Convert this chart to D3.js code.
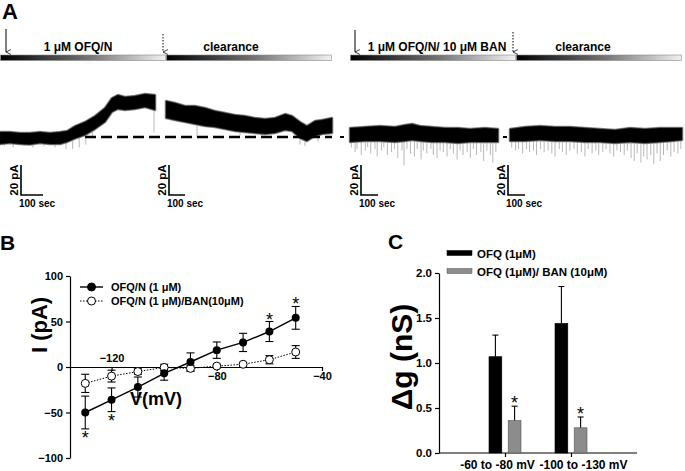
<!DOCTYPE html>
<html>
<head>
<meta charset="utf-8">
<script src="https://cdn.jsdelivr.net/npm/d3@7"></script>
<style>
  body { margin: 0; background: #fff; }
  svg { display: block; font-family: "Liberation Sans", Arial, sans-serif; font-weight: bold; }
  .narrow { font-family: "Liberation Sans Narrow", "Arial Narrow", "Liberation Sans", sans-serif; }
</style>
</head>
<body>
<svg id="fig" width="685" height="471"></svg>
<script>
// ---------- Panel A: current traces (time in s, current in pA above baseline) ----------
// envelope of each trace: [time, low, high]
const trace1Band = [
  [0, -4.7, 3.3], [45, -4, 3.3], [91, -4.7, 2.7], [136, -5, 2.7], [182, -4, 3.3],
  [227, -4.7, 2.7], [273, -4.7, 3.3], [305, -3.3, 4], [341, -1, 7.3], [386, 1.3, 10],
  [432, 5.3, 14], [477, 10, 19.3], [509, 16.7, 26], [536, 18.7, 28], [568, 18, 26.7],
  [614, 18.7, 27.3], [659, 20, 28.7], [705, 18, 28]
];
const trace2Band = [
  [0, 12.7, 24], [56, 11.3, 22.7], [119, 10, 20.7], [181, 8.7, 20.7], [244, 7.3, 19.3],
  [306, 6.7, 17.3], [369, 5.3, 16], [431, 4, 14.7], [494, 3.3, 14], [556, 2.7, 12.7],
  [619, 2, 12], [681, 2.7, 12.7], [744, 4.7, 15.3], [788, 4, 14], [838, -0.7, 10],
  [881, -2.7, 7.3], [931, 0.7, 10.7], [975, 2, 11.3], [1038, 2.7, 12.7]
];
const trace3Band = [
  [0, -3.3, 6], [88, -2.7, 6.7], [176, -2.7, 7.3], [265, -3.3, 6.7], [324, -2.7, 8],
  [365, -2, 8.7], [412, -2.7, 7.3], [482, -3.3, 6.7], [559, -3.3, 6], [635, -4, 6],
  [706, -3.3, 5.3], [794, -3.3, 6], [871, -3.3, 5.3]
];
const trace4Band = [
  [0, -2.7, 5.3], [88, -2.7, 6.7], [176, -2, 7.3], [265, -2.7, 6.7], [353, -2.7, 6.7],
  [441, -3.3, 6], [529, -3.3, 5.3], [618, -4, 4.7], [706, -3.3, 6], [794, -4, 5.3],
  [882, -3.3, 6], [953, -2.7, 6], [1012, -2, 6]
];
// noise spikes: [time, tip current]
const trace1Spikes = [
  [20, -6], [60, -7], [110, -6], [150, -7], [200, -6], [250, -7], [300, -8], [330, -8],
  [360, -7], [390, -5], [420, -1], [700, 3]
];
const trace2Spikes = [[194, 0], [463, 1], [600, 0], [838, -5], [869, -6], [950, -3]];
const trace3Spikes = [
  [8, -7], [30, -10], [41, -8], [66, -12], [90, -9], [104, -7], [122, -11], [147, -8],
  [160, -13], [185, -9], [199, -7], [220, -12], [244, -10], [262, -8], [281, -14], [306, -9],
  [318, -19], [335, -8], [356, -11], [379, -13], [395, -8], [418, -15], [431, -9], [452, -11],
  [476, -8], [490, -12], [512, -14], [530, -9], [549, -10], [571, -13], [590, -8], [608, -11],
  [630, -15], [648, -9], [665, -12], [689, -10], [708, -14], [726, -8], [744, -12], [770, -10],
  [786, -16], [805, -9], [826, -12], [840, -17], [858, -10]
];
const trace4Spikes = [
  [10, -7], [33, -9], [50, -8], [74, -11], [97, -8], [115, -10], [138, -9], [156, -12],
  [180, -8], [201, -10], [224, -9], [246, -11], [265, -13], [290, -8], [308, -10], [331, -12],
  [352, -9], [377, -8], [396, -11], [420, -10], [441, -13], [460, -8], [483, -11], [505, -9],
  [522, -12], [546, -10], [565, -8], [588, -11], [610, -13], [629, -9], [650, -10], [672, -12],
  [690, -9], [712, -14], [731, -16], [748, -11], [770, -17], [787, -13], [806, -15], [828, -12],
  [846, -18], [865, -11], [884, -16], [903, -12], [925, -9], [946, -13], [965, -10], [988, -11],
  [1005, -8]
];
const applicationLabels = ["1 \u03bcM OFQ/N", "clearance", "1 \u03bcM OFQ/N/ 10 \u03bcM BAN", "clearance"];
const scaleBarCurrent = 20;   // pA
const scaleBarTime = 100;     // s

// ---------- Panel B: I-V relation ----------
const voltages = [-130, -120, -110, -100, -90, -80, -70, -60, -50];
const ofqCurrent = [-50, -36, -22, -7, 5.5, 18.5, 27, 39, 54];
const ofqSem = [18, 13, 11, 7.5, 10, 9, 10, 11, 12.5];
const banCurrent = [-18, -10, -5, -0.5, -1.5, 1, 3, 8, 16.5];
const banSem = [10, 6.5, 3, 3.5, 3, 2, 2, 4.5, 7];
const ofqStars = [[0, "below"], [1, "below"], [7, "above"], [8, "above"]];
const ivSeriesNames = ["OFQ/N (1 \u03bcM)", "OFQ/N (1 \u03bcM)/BAN(10\u03bcM)"];
const ivYTicks = [-100, -50, 0, 50, 100];
const ivXTicks = [-120, -80, -40];

// ---------- Panel C: conductance change ----------
const voltageRanges = ["-60 to -80 mV", "-100 to -130 mV"];
const condSeries = ["OFQ (1\u03bcM)", "OFQ (1\u03bcM)/ BAN (10\u03bcM)"];
const ofqCond = [1.07, 1.44];
const ofqCondSem = [0.24, 0.41];
const banCond = [0.36, 0.28];
const banCondSem = [0.16, 0.12];
const condStars = [true, true]; // on BAN bars
const condYTicks = [0, 0.5, 1.0, 1.5, 2.0];

const svg = d3.select("#fig");

// ================= Panel A =================
const panelA = svg.append("g");
panelA.append("text").attr("x", 2).attr("y", 19).attr("font-size", 22).text("A");

const defs = svg.append("defs");
const grad = defs.append("linearGradient").attr("id", "fade").attr("x1", 0).attr("x2", 1);
grad.append("stop").attr("offset", "0%").attr("stop-color", "#000");
grad.append("stop").attr("offset", "55%").attr("stop-color", "#777");
grad.append("stop").attr("offset", "100%").attr("stop-color", "#f2f2f2");
defs.append("marker").attr("id", "head").attr("viewBox", "0 0 8 10")
  .attr("refX", 4).attr("refY", 10).attr("markerWidth", 6).attr("markerHeight", 7)
  .attr("orient", "auto-start-reverse").attr("markerUnits", "userSpaceOnUse")
  .append("path").attr("d", "M0.5,3 L4,10 L7.5,3").attr("fill", "none")
  .attr("stroke", "#000").attr("stroke-width", 1.1);

const barStarts = [0, 166, 350, 516];
const labelCenters = [78, 65, 87, 67];
const barW = 166;
applicationLabels.forEach((lab, i) => {
  const x0 = barStarts[i];
  panelA.append("rect").attr("x", x0 + 0.5).attr("y", 55).attr("width", barW - 1).attr("height", 5.5)
    .attr("fill", "url(#fade)").attr("stroke", "#888").attr("stroke-width", 0.6);
  panelA.append("text").attr("x", x0 + labelCenters[i]).attr("y", 51)
    .attr("text-anchor", "middle").attr("font-size", 12).text(lab);
});
// arrows marking application and washout
[[6, 29, false], [163, 34, true], [355, 30, false], [513, 32, true]].forEach(([ax, ay, dotted]) => {
  panelA.append("line").attr("x1", ax).attr("x2", ax).attr("y1", ay).attr("y2", 52)
    .attr("stroke", "#000").attr("stroke-width", 1)
    .attr("stroke-dasharray", dotted ? "1.5,1.5" : null)
    .attr("marker-end", "url(#head)");
});

const yA = d3.scaleLinear().domain([0, scaleBarCurrent]).range([137, 107]);
const traces = [
  { band: trace1Band, spikes: trace1Spikes, x0: 0, k: 0.22, bar: [21, 195] },
  { band: trace2Band, spikes: trace2Spikes, x0: 166, k: 0.16, bar: [169, 195] },
  { band: trace3Band, spikes: trace3Spikes, x0: 350, k: 0.17, bar: [361, 195] },
  { band: trace4Band, spikes: trace4Spikes, x0: 510, k: 0.17, bar: [508, 195] }
];
const bis = d3.bisector(d => d[0]).center;
traces.forEach(tr => {
  const tMax = tr.band[tr.band.length - 1][0];
  const x = d3.scaleLinear().domain([0, tMax]).range([tr.x0, tr.x0 + tMax * tr.k]);
  const g = panelA.append("g");
  g.selectAll("line.spike").data(tr.spikes).join("line").attr("class", "spike")
    .attr("x1", d => x(d[0])).attr("x2", d => x(d[0]))
    .attr("y1", d => { const b = tr.band[bis(tr.band, d[0])]; return yA((b[1] + b[2]) / 2); })
    .attr("y2", d => yA(d[1]))
    .attr("stroke", "#999").attr("stroke-width", 0.7);
  // soft grey fringe, then black core
  const area = d3.area().x(d => x(d[0])).y0(d => yA(d[1])).y1(d => yA(d[2]));
  g.append("path").datum(tr.band).attr("d", area)
    .attr("fill", "#666").attr("stroke", "#888").attr("stroke-width", 2.5).attr("stroke-linejoin", "round");
  g.append("path").datum(tr.band).attr("d", area)
    .attr("fill", "#000").attr("stroke", "#111").attr("stroke-width", 0.6);

  // scale bar
  const [bx, by] = tr.bar;
  const h = yA(0) - yA(scaleBarCurrent);
  const w = x(scaleBarTime) - x(0);
  g.append("path").attr("d", `M${bx},${by - h} V${by} H${bx + w}`)
    .attr("fill", "none").attr("stroke", "#000").attr("stroke-width", 1.6);
  g.append("text").attr("class", "narrow").attr("font-size", 11.5)
    .attr("transform", `translate(${bx - 3},${by - h / 2}) rotate(-90)`)
    .attr("text-anchor", "middle").text(scaleBarCurrent + " pA");
  g.append("text").attr("class", "narrow").attr("font-size", 10)
    .attr("x", bx - 2).attr("y", by + 12).text(scaleBarTime + " sec");
});
// baseline reference
panelA.append("line").attr("x1", 85).attr("x2", 332).attr("y1", yA(0)).attr("y2", yA(0))
  .attr("stroke", "#000").attr("stroke-width", 2.4).attr("stroke-dasharray", "11,5");
[[340, 344], [503, 507]].forEach(([a, b]) => {
  panelA.append("line").attr("x1", a).attr("x2", b).attr("y1", yA(0)).attr("y2", yA(0))
    .attr("stroke", "#000").attr("stroke-width", 2);
});

// ================= Panel B =================
const panelB = svg.append("g");
panelB.append("text").attr("x", 0).attr("y", 250).attr("font-size", 21).text("B");

const xB = d3.scaleLinear().domain([-135.8, -40]).range([70, 322]);
const yB = d3.scaleLinear().domain([-100, 100]).range([458, 276]);

const yAxisB = panelB.append("g").attr("transform", "translate(70,0)")
  .call(d3.axisLeft(yB).tickValues(ivYTicks).tickSize(4).tickSizeOuter(0).tickPadding(3));
const xAxisB = panelB.append("g").attr("transform", `translate(0,${yB(0)})`)
  .call(d3.axisBottom(xB).tickValues(ivXTicks).tickSize(4).tickSizeOuter(0));
[yAxisB, xAxisB].forEach(a => {
  a.selectAll("path,line").attr("stroke", "#000").attr("stroke-width", 1.2);
  a.selectAll("text").attr("font-size", 11).attr("font-family", null).attr("fill", "#000");
});
xAxisB.selectAll("text").attr("dy", null).attr("y", d => d === -120 ? -5 : 13);

panelB.append("text").attr("transform", "translate(47,325) rotate(-90)")
  .attr("text-anchor", "middle").attr("font-size", 22).text("I (pA)");
panelB.append("text").attr("x", 156).attr("y", 405).attr("text-anchor", "middle")
  .attr("font-size", 18).text("V(mV)");

const ivOfq = voltages.map((v, i) => ({ v, c: ofqCurrent[i], s: ofqSem[i] }));
const ivBan = voltages.map((v, i) => ({ v, c: banCurrent[i], s: banSem[i] }));
const lineB = d3.line().x(d => xB(d.v)).y(d => yB(d.c));

panelB.append("path").datum(ivBan).attr("d", lineB).attr("fill", "none")
  .attr("stroke", "#000").attr("stroke-width", 1).attr("stroke-dasharray", "1.5,1.5");
panelB.append("path").datum(ivOfq).attr("d", lineB).attr("fill", "none")
  .attr("stroke", "#000").attr("stroke-width", 1.4);

function errorBars(g, data, x, y, cap) {
  const eb = g.append("g").attr("stroke", "#000").attr("stroke-width", 1.1);
  data.forEach(d => {
    const cx = x(d.v), top = y(d.c + d.s), bot = y(d.c - d.s);
    eb.append("line").attr("x1", cx).attr("x2", cx).attr("y1", top).attr("y2", bot);
    eb.append("line").attr("x1", cx - cap).attr("x2", cx + cap).attr("y1", top).attr("y2", top);
    eb.append("line").attr("x1", cx - cap).attr("x2", cx + cap).attr("y1", bot).attr("y2", bot);
  });
}
errorBars(panelB, ivBan, xB, yB, 4);
errorBars(panelB, ivOfq, xB, yB, 4);

panelB.selectAll("circle.ban").data(ivBan).join("circle").attr("class", "ban")
  .attr("cx", d => xB(d.v)).attr("cy", d => yB(d.c)).attr("r", 4)
  .attr("fill", "#fff").attr("stroke", "#000").attr("stroke-width", 1);
panelB.selectAll("circle.ofq").data(ivOfq).join("circle").attr("class", "ofq")
  .attr("cx", d => xB(d.v)).attr("cy", d => yB(d.c)).attr("r", 4).attr("fill", "#000");

ofqStars.forEach(([i, where]) => {
  const d = ivOfq[i];
  const cy = where === "below" ? yB(d.c - d.s) + 6 : yB(d.c + d.s) - 5;
  panelB.append("text").attr("x", xB(d.v)).attr("y", cy + 9).attr("text-anchor", "middle")
    .attr("font-size", 18).attr("font-weight", "normal").text("*");
});

// legend B
ivSeriesNames.forEach((name, i) => {
  const ly = 287 + i * 14;
  panelB.append("line").attr("x1", 80).attr("x2", 103).attr("y1", ly).attr("y2", ly)
    .attr("stroke", "#000").attr("stroke-width", i === 0 ? 1.4 : 1)
    .attr("stroke-dasharray", i === 0 ? null : "1.5,1.5");
  panelB.append("circle").attr("cx", 91.5).attr("cy", ly).attr("r", 4)
    .attr("fill", i === 0 ? "#000" : "#fff").attr("stroke", "#000");
  panelB.append("text").attr("x", 111).attr("y", ly + 4).attr("font-size", 11).text(name);
});

// ================= Panel C =================
const panelC = svg.append("g");
panelC.append("text").attr("x", 388).attr("y", 249).attr("font-size", 21).text("C");

const yC = d3.scaleLinear().domain([0, 2]).range([453, 273]);
const xC = d3.scalePoint().domain(voltageRanges).range([439, 637]).padding(1);
const x1 = d3.scaleBand().domain(condSeries).range([-16, 16]).paddingInner(1 / 3);
const barColor = d3.scaleOrdinal().domain(condSeries).range(["#000", "#8c8c8c"]);

const yAxisC = panelC.append("g").attr("transform", "translate(439,0)")
  .call(d3.axisLeft(yC).tickValues(condYTicks).tickFormat(d3.format(".1f")).tickSize(4).tickSizeOuter(0).tickPadding(3));
const xAxisC = panelC.append("g").attr("transform", `translate(0,${yC(0)})`)
  .call(d3.axisBottom(xC).tickSize(4).tickSizeOuter(0));
xAxisC.select(".domain").attr("d", `M439,0H637`);
[yAxisC, xAxisC].forEach(a => {
  a.selectAll("path,line").attr("stroke", "#000").attr("stroke-width", 1.2);
  a.selectAll("text").attr("font-size", 11.5).attr("font-family", null).attr("fill", "#000");
});
const labelShift = [-8, 12];
xAxisC.selectAll("text").attr("dx", (d, i) => labelShift[i]).attr("y", 7).attr("font-size", 12);

panelC.append("text").attr("transform", "translate(412,357) rotate(-90)")
  .attr("text-anchor", "middle").attr("font-size", 30).text("\u0394g (nS)");

const condData = voltageRanges.map((r, i) => ([
  { r, s: condSeries[0], v: ofqCond[i], e: ofqCondSem[i], star: false },
  { r, s: condSeries[1], v: banCond[i], e: banCondSem[i], star: condStars[i] }
])).flat();

panelC.selectAll("rect.bar").data(condData).join("rect").attr("class", "bar")
  .attr("x", d => xC(d.r) + x1(d.s)).attr("width", x1.bandwidth())
  .attr("y", d => yC(d.v)).attr("height", d => yC(0) - yC(d.v))
  .attr("fill", d => barColor(d.s)).attr("stroke", d => d.s === condSeries[0] ? "#000" : "#555")
  .attr("stroke-width", 0.6);
condData.forEach(d => {
  const cx = xC(d.r) + x1(d.s) + x1.bandwidth() / 2;
  const top = yC(d.v + d.e);
  panelC.append("line").attr("x1", cx).attr("x2", cx).attr("y1", yC(d.v)).attr("y2", top)
    .attr("stroke", "#000").attr("stroke-width", 1.1);
  panelC.append("line").attr("x1", cx - 3).attr("x2", cx + 3).attr("y1", top).attr("y2", top)
    .attr("stroke", "#000").attr("stroke-width", 1.1);
  if (d.star) {
    panelC.append("text").attr("x", cx).attr("y", top - 6 + 9).attr("text-anchor", "middle")
      .attr("font-size", 18).attr("font-weight", "normal").text("*");
  }
});

// legend C
condSeries.forEach((name, i) => {
  const ly = 253 + i * 18;
  panelC.append("rect").attr("x", 447).attr("y", ly - 2.5).attr("width", 25).attr("height", 5)
    .attr("fill", barColor(name)).attr("stroke", i === 0 ? "#000" : "#555").attr("stroke-width", 0.5);
  panelC.append("text").attr("x", 477).attr("y", ly + 5).attr("font-size", 11.5).text(name);
});
</script>
</body>
</html>
